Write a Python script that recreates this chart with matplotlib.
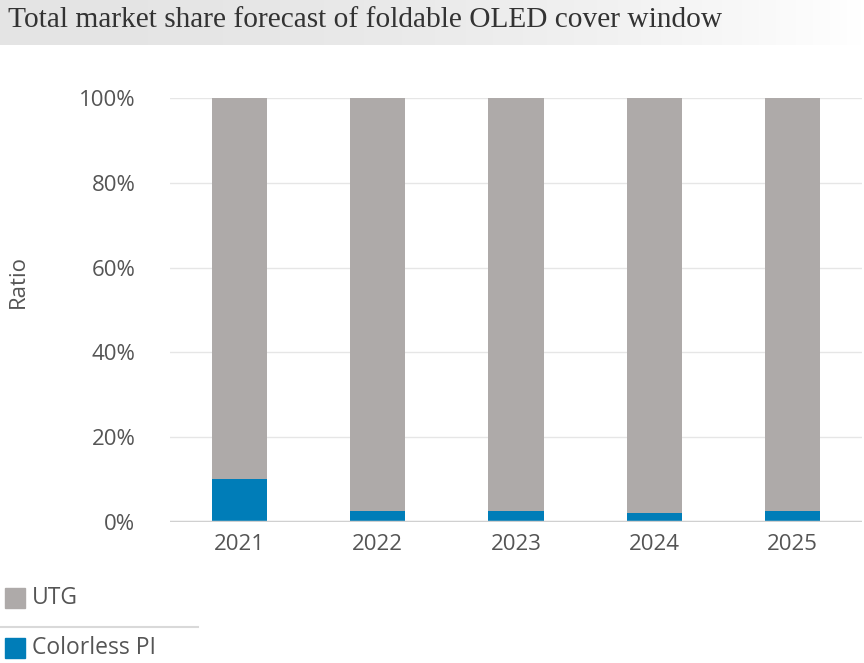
import numpy as np
import matplotlib.pyplot as plt
from matplotlib.patches import Rectangle
from matplotlib.lines import Line2D

years = ['2021', '2022', '2023', '2024', '2025']
colorless_pi = [10.1, 2.6, 2.6, 2.2, 2.6]
utg = [100 - v for v in colorless_pi]

gray = '#aeaaa9'
blue = '#007db8'
txt = '#555555'

plt.rcParams['font.family'] = ['Open Sans', 'DejaVu Sans']

fig = plt.figure(figsize=(8.64, 6.63), dpi=100)

# title band with a soft gradient
band = fig.add_axes([0, 1 - 45 / 663, 1, 45 / 663])
grad = np.linspace(0, 1, 256)
shade = np.clip(0.895 + 0.105 * grad ** 2, 0, 1)
band.imshow(np.dstack([shade, shade, shade]), aspect='auto', extent=[0, 1, 0, 1])
band.set_axis_off()
fig.text(8 / 864, 1 - 20 / 663, 'Total market share forecast of foldable OLED cover window',
         family='Liberation Serif', fontsize=21.2, color='#333333', va='center', ha='left')

ax = fig.add_axes([170 / 864, 1 - 522 / 663, 692 / 864, 424 / 663])
x = np.arange(len(years))
ax.bar(x, colorless_pi, width=0.4, color=blue, zorder=3)
ax.bar(x, utg, width=0.4, bottom=colorless_pi, color=gray, zorder=3)

ax.set_xlim(-0.5, 4.5)
ax.set_ylim(0, 100)
ax.set_yticks(np.arange(0, 101, 20))
ax.set_yticklabels([f'{v}%' for v in range(0, 101, 20)])
ax.set_xticks(x)
ax.set_xticklabels(years)
ax.tick_params(axis='both', length=0, labelsize=16, colors=txt)
ax.tick_params(axis='y', pad=25)
ax.tick_params(axis='x', pad=9)
for s in ax.spines.values():
    s.set_visible(False)
ax.grid(axis='y', color='#e6e6e6', linewidth=1, zorder=0)
ax.axhline(0, color='#d0d0d0', linewidth=2.5, zorder=4)
fig.text(18 / 864, 1 - 281 / 663, 'Ratio', rotation=90, fontsize=16, color=txt,
         ha='center', va='center')

# legend drawn by hand
legend_items = [('UTG', gray, 598), ('Colorless PI', blue, 648)]
for label, col, yy in legend_items:
    fig.patches.append(Rectangle((5 / 864, 1 - (yy + 10) / 663), 20 / 864, 20 / 663,
                                 transform=fig.transFigure, color=col))
    fig.text(32 / 864, 1 - yy / 663, label, fontsize=16.5, color=txt, va='center', ha='left')
fig.lines.append(Line2D([0, 198 / 864], [1 - 627 / 663, 1 - 627 / 663],
                        transform=fig.transFigure, color='#d9d9d9', linewidth=1.5))

fig.savefig('out.png', dpi=100)
